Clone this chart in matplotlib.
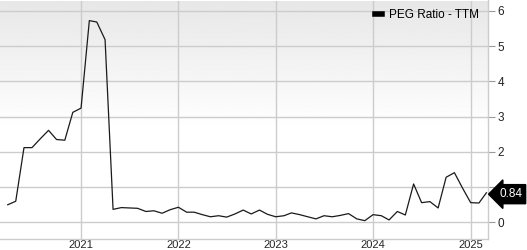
import matplotlib
matplotlib.use('Agg')
import matplotlib.pyplot as plt
import matplotlib.dates as mdates
import numpy as np
import pandas as pd

plt.rcParams['font.family'] = ['Liberation Sans', 'DejaVu Sans']

# monthly PEG ratio (TTM), Apr 2020 - Mar 2025
dates = pd.date_range('2020-04-01', periods=60, freq='MS')
peg = [0.50, 0.60, 2.12, 2.12, 2.37, 2.61, 2.35, 2.33, 3.12,
       3.24, 5.72, 5.68, 5.18, 0.37, 0.42, 0.41, 0.40, 0.31, 0.33, 0.26, 0.36,
       0.43, 0.29, 0.29, 0.22, 0.16, 0.19, 0.15, 0.24, 0.35, 0.24, 0.35, 0.23,
       0.16, 0.19, 0.27, 0.22, 0.16, 0.10, 0.19, 0.16, 0.20, 0.25, 0.10, 0.05,
       0.22, 0.19, 0.07, 0.31, 0.21, 1.09, 0.56, 0.59, 0.41, 1.28, 1.41, 0.98,
       0.56, 0.55, 0.84]
series_name = 'PEG Ratio - TTM'
year_ticks = ['2021', '2022', '2023', '2024', '2025']
y_ticks = [0, 1, 2, 3, 4, 5, 6]
y_labels = ['0', '', '2', '3', '4', '5', '6']

fig = plt.figure(figsize=(5.27, 2.5), dpi=100)
ax = fig.add_axes([0.0, 0.044, 0.926, 0.954])

# gray-to-white gradient background
grad = np.linspace(0.905, 1.0, 256)
grad = np.concatenate([grad, np.ones(220)])
ax.imshow(grad.reshape(-1, 1), cmap='gray', vmin=0, vmax=1, aspect='auto',
          extent=[0, 1, 0, 1], transform=ax.transAxes, zorder=0)

ax.plot(dates, peg, color='#1a1a1a', linewidth=0.9, zorder=3, label=series_name)

ax.set_xlim(pd.Timestamp('2020-03-03'), pd.Timestamp('2025-03-07'))
ax.set_ylim(-0.47, 6.29)

ax.set_xticks([pd.Timestamp(y + '-01-01') for y in year_ticks])
ax.xaxis.set_major_formatter(mdates.DateFormatter('%Y'))
ax.set_yticks(y_ticks)
ax.set_yticklabels(y_labels)
ax.yaxis.tick_right()
ax.tick_params(axis='y', direction='out', length=5, width=0.8, color='#999999',
               labelsize=8.5, pad=2, labelcolor='#222222')
ax.tick_params(axis='x', length=0, labelsize=8, pad=0.5, labelcolor='#222222')

ax.grid(True, color='#cccccc', linewidth=1.0, zorder=1)
ax.set_axisbelow(True)
for side in ['left', 'top']:
    ax.spines[side].set_visible(False)
for side in ['right', 'bottom']:
    ax.spines[side].set_color('#cccccc')
    ax.spines[side].set_linewidth(1.0)

# legend
leg = ax.legend(loc='upper right', frameon=False, fontsize=8.5, handlelength=0.6,
                handletextpad=0.6, borderaxespad=0.35)
for h in leg.legend_handles:
    h.set_linewidth(4)
    h.set_color('black')

# last value tag
ax.annotate(f'{peg[-1]:.2f}', xy=(1.0, peg[-1]), xycoords=('axes fraction', 'data'),
            xytext=(8, -1), textcoords='offset points', ha='left', va='center',
            fontsize=8.5, color='white',
            bbox=dict(boxstyle='larrow,pad=0.3', fc='black', ec='black'),
            annotation_clip=False)

fig.savefig('out.png', dpi=100)
